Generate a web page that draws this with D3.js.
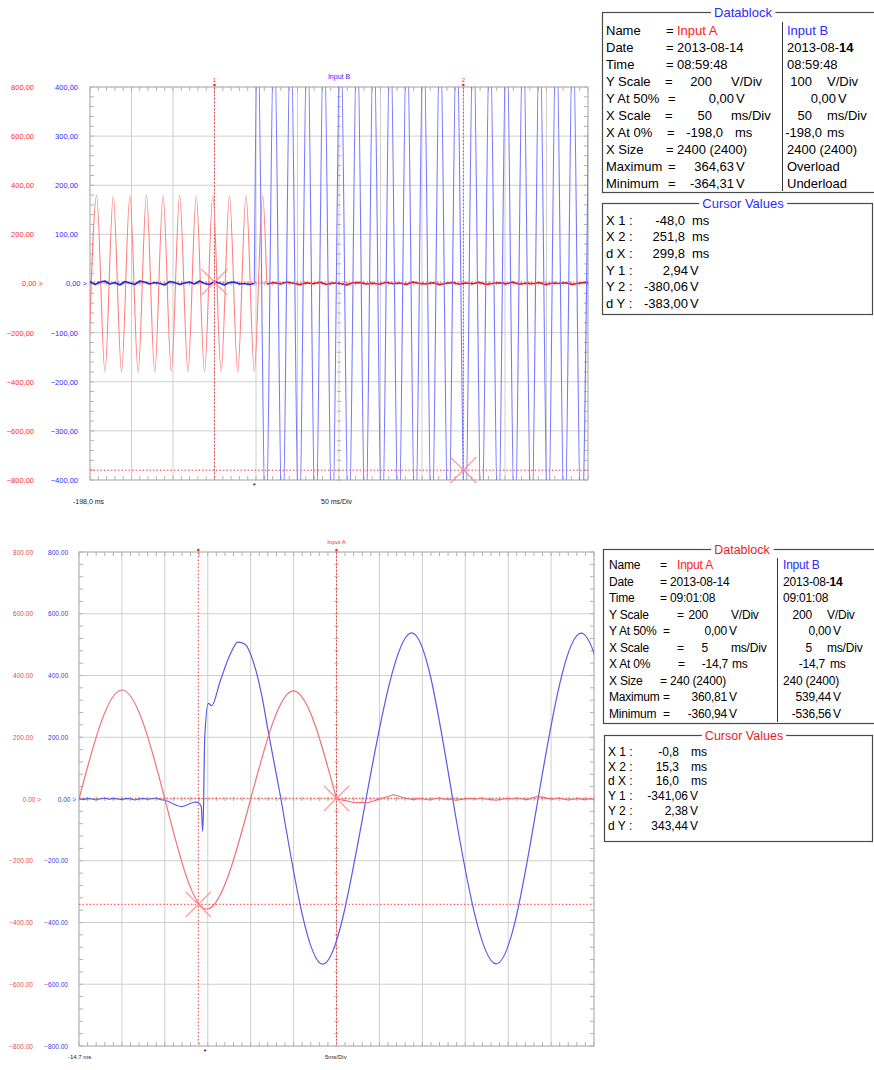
<!DOCTYPE html>
<html>
<head>
<meta charset="utf-8">
<script src="https://cdn.jsdelivr.net/npm/d3@7"></script>
<style>
  body { margin: 0; background: #fff; }
  svg { display: block; }
  text { font-family: "Liberation Sans", Arial, sans-serif; }
</style>
</head>
<body>
<svg id="chart" width="874" height="1070"></svg>
<script>
// ---------- top capture 08:59:48 (50 ms/div) ----------
// Input A: extrema of the 50 Hz sine before the switch (ms, V)
const topRedT = [-200, -190, -180, -170, -160, -150, -140, -130, -120, -110, -100, -90, -80, -70, -60, -50, -40, -30, -20, -10, 0, 10, 15];
const topRedV = [-359, 358, -360, 356, -359, 357, -361, 360, -359, 358, -358, 360, -359, 356, -360, 359, -359, 357, -361, 358, -357, 359, 0];
// Input A after the switch: flat trace, one value every 8 ms from 15 ms
const topRedNoiseStart = 15, topRedNoiseStep = 8;
const topRedNoise = [-3, 4, -2, 6, 1, -5, 3, -1, 5, -4, 2, 0, -6, 3, 4, -2, 1, -3, 5, -1, 2, -4, 6, 0, -2, 3, -5, 1, 4, -3, 2, -1, 5, -4, 0, 3, -2, 6, -3, 1, -1, 4, -5, 2, 0, 3, -4, 1, 5, -2];
// Input B before the switch: flat trace, one value every 6 ms from -198 ms
const topBlueNoiseStart = -198, topBlueNoiseStep = 6;
const topBlueNoise = [4, -2, 3, 5, -1, 2, -3, 4, 1, -2, 5, 3, -1, 2, 0, -3, 4, 2, -2, 1, 3, -1, 5, 0, -2, 4, 1, -3, 2, 3, -1, 0, -2, 0];
// Input B after the switch: extrema of the overloaded sine (ms, V)
const topBlueT = [0, 3.8, 13.8, 23.8, 33.8, 43.8, 53.8, 63.8, 73.8, 83.8, 93.8, 103.8, 113.8, 123.8, 133.8, 143.8, 153.8, 163.8, 173.8, 183.8, 193.8,
  203.8, 213.8, 223.8, 233.8, 243.8, 253.8, 263.8, 273.8, 283.8, 293.8, 303.8, 313.8, 323.8, 333.8, 343.8, 353.8, 363.8, 373.8, 383.8, 393.8, 403.8];
const topBlueV = [0, 540, -538, 539, -537, 541, -539, 538, -540, 539, -538, 540, -537, 539, -539, 538, -540, 541, -538, 539, -537,
  540, -539, 538, -538, 539, -540, 540, -537, 538, -539, 541, -538, 539, -540, 538, -537, 540, -539, 539, -538, 540];
const topCursorX = [-48.0, 251.8];
const topCursorY = [2.94, -380.06];
const topTicksA = [800, 600, 400, 200, 0, -200, -400, -600, -800];
const topTicksB = [400, 300, 200, 100, 0, -100, -200, -300, -400];

// ---------- bottom capture 09:01:08 (5 ms/div) ----------
const botRedT = [-14.7, -9.7, -4.7, 0.2, 5.3, 10.3, 15.3];
const botRedV = [0, 353, 0, -357, 0, 350, 0];
const botRedNoiseStart = 15.3, botRedNoiseStep = 0.6;
const botRedNoise = [0, -3, -6, -10, -12, -11, -12, -8, -2, 3, 8, 14, 10, 4, 1, -2, 2, 0, -3, 1, 3, -1, 0, -4, -2, 1, 2, -1, 3, 0,
  -2, -4, -1, 2, 0, 3, 1, -2, 4, 8, 6, 2, -1, 3, 0, -3, -1, 2, -2, 1, 0];
const botBlueNoiseStart = -14.7, botBlueNoiseStep = 0.5;
const botBlueNoise = [1, -2, 2, 0, -3, 1, 3, -1, 2, 0, -2, 2, 1, -3, 0, 2, -1, 1, 3, -2, -4, -9, -16, -22, -25, -20, -14, -10];
// switching transient and first half wave of Input B
const botBlueStepT = [-1.2, -0.8, -0.45, -0.3, -0.2, -0.05, 0.36, 0.76, 1.73, 2.89, 3.82, 4.64, 5.6, 6.58, 7.35, 8.83];
const botBlueStepV = [-10, -12, -25, -105, -40, 200, 310, 302, 380, 467, 508, 501, 445, 337, 218, 0];
// following cycles of Input B: zero crossings and extrema
const botBlueT = [8.83, 13.7, 18.74, 24.06, 28.84, 33.9, 38.78, 43.8, 48.8];
const botBlueV = [0, -535, 0, 538, 0, -534, 0, 537, 0];
const botCursorX = [-0.8, 15.3];
const botCursorY = [-341.06, 2.38];
const botTicks = [800, 600, 400, 200, 0, -200, -400, -600, -800];

// ---------- datablock texts ----------
const blockLabels = ["Name", "Date", "Time", "Y Scale", "Y At 50%", "X Scale", "X At 0%", "X Size", "Maximum", "Minimum"];
const blockUnits = ["", "", "", "V/Div", "V", "ms/Div", "ms", "", "V", "V"];
const topBlockA = ["Input A", "2013-08-14", "08:59:48", "200", "0,00", "50", "-198,0", "2400 (2400)", "364,63", "-364,31"];
const topBlockB = ["Input B", "2013-08-14", "08:59:48", "100", "0,00", "50", "-198,0", "2400 (2400)", "Overload", "Underload"];
const botBlockA = ["Input A", "2013-08-14", "09:01:08", "200", "0,00", "5", "-14,7", "240 (2400)", "360,81", "-360,94"];
const botBlockB = ["Input B", "2013-08-14", "09:01:08", "200", "0,00", "5", "-14,7", "240 (2400)", "539,44", "-536,56"];
const cursorLabels = ["X 1 :", "X 2 :", "d X :", "Y 1 :", "Y 2 :", "d Y :"];
const topCursorVals = ["-48,0", "251,8", "299,8", "2,94", "-380,06", "-383,00"];
const botCursorVals = ["-0,8", "15,3", "16,0", "-341,06", "2,38", "343,44"];

const RED = "#ff2a2a", BLUE = "#2a2aff";
const svg = d3.select("#chart");

// ---------- scope plot ----------
function scope(opt) {
  const g = svg.append("g");
  const x = opt.x, yA = opt.yA, yB = opt.yB;
  const [x0, x1] = x.range(), [yb, yt] = yA.range();
  const xm = (x0 + x1) / 2, ym = yA(0);

  g.append("clipPath").attr("id", opt.id).append("rect")
    .attr("x", x0).attr("y", yt).attr("width", x1 - x0).attr("height", yb - yt);

  // grid
  const gx = d3.range(opt.xDivs + 1).map(i => x.domain()[0] + i * opt.xStep);
  g.append("g").selectAll("line").data(gx).join("line")
    .attr("x1", d => x(d)).attr("x2", d => x(d)).attr("y1", yt).attr("y2", yb)
    .attr("stroke", "#cfcfcf").attr("stroke-width", 1);
  g.append("g").selectAll("line").data(opt.ticksA).join("line")
    .attr("x1", x0).attr("x2", x1).attr("y1", d => yA(d)).attr("y2", d => yA(d))
    .attr("stroke", "#cfcfcf").attr("stroke-width", 1);

  // minor ticks on borders and centre lines
  const mx = d3.range(opt.xDivs * 5 + 1).map(i => x.domain()[0] + i * opt.xStep / 5);
  const my = d3.range(opt.yDivs * 5 + 1).map(i => yA.domain()[0] + i * (yA.domain()[1] - yA.domain()[0]) / (opt.yDivs * 5));
  const tk = g.append("g").attr("stroke", "#b0b0b0").attr("stroke-width", 1);
  mx.forEach(v => {
    tk.append("line").attr("x1", x(v)).attr("x2", x(v)).attr("y1", yt).attr("y2", yt + 4);
    tk.append("line").attr("x1", x(v)).attr("x2", x(v)).attr("y1", yb).attr("y2", yb - 4);
    tk.append("line").attr("x1", x(v)).attr("x2", x(v)).attr("y1", ym - 2).attr("y2", ym + 2);
  });
  my.forEach(v => {
    tk.append("line").attr("y1", yA(v)).attr("y2", yA(v)).attr("x1", x0).attr("x2", x0 + 4);
    tk.append("line").attr("y1", yA(v)).attr("y2", yA(v)).attr("x1", x1).attr("x2", x1 - 4);
    tk.append("line").attr("y1", yA(v)).attr("y2", yA(v)).attr("x1", xm - 2).attr("x2", xm + 2);
  });
  g.append("rect").attr("x", x0).attr("y", yt).attr("width", x1 - x0).attr("height", yb - yt)
    .attr("fill", "none").attr("stroke", "#b8b8b8");

  // y axes (two channels)
  const fmt = d => d === 0 ? "0" + opt.dec + "00 >" : d3.format(".2f")(d).replace(".", opt.dec);
  [[yA, opt.ticksA, opt.axA, opt.colA], [yB, opt.ticksB, opt.axB, opt.colB]].forEach(([sc, tv, ax, col]) => {
    const a = g.append("g").attr("transform", `translate(${ax},0)`)
      .call(d3.axisLeft(sc).tickValues(tv).tickFormat(fmt).tickSize(0).tickPadding(0));
    a.select(".domain").remove();
    a.selectAll("text").attr("fill", col).attr("font-size", opt.fs)
      .attr("font-family", "'Liberation Sans', Arial, sans-serif")
      .attr("x", d => d === 0 ? opt.zeroShift : 0);
  });

  // cursors
  const cur = g.append("g").attr("stroke", "#ff3a3a").attr("stroke-width", 1).attr("stroke-dasharray", "1.5,2");
  opt.curX.forEach(v => cur.append("line").attr("x1", x(v)).attr("x2", x(v)).attr("y1", yt - 3).attr("y2", yb));
  opt.curY.forEach(v => cur.append("line").attr("x1", x0).attr("x2", x1).attr("y1", opt.yCur(v)).attr("y2", opt.yCur(v)));
  opt.curX.forEach(v => g.append("circle").attr("cx", x(v)).attr("cy", yt - 2).attr("r", 1.3).attr("fill", "#ff2020"));

  // traces
  const tr = g.append("g").attr("clip-path", `url(#${opt.id})`);
  const curves = { lin: d3.curveLinear, nat: d3.curveNatural, mono: d3.curveMonotoneX };
  opt.traces.forEach(t => {
    const sc = t.ch === "A" ? yA : yB;
    const line = d3.line().x(d => x(d[0])).y(d => sc(d[1])).curve(curves[t.curve]);
    tr.append("path").datum(t.data).attr("d", line)
      .attr("fill", "none").attr("stroke", t.color).attr("stroke-width", t.w)
      .attr("stroke-linejoin", "round");
  });

  // cursor crosses
  const cx = g.append("g").attr("stroke", "#ff8a8a").attr("stroke-width", 1.1);
  opt.curX.forEach((v, i) => {
    const px = x(v), py = opt.yCur(opt.curY[i]), s = opt.cross;
    cx.append("line").attr("x1", px - s).attr("y1", py - s).attr("x2", px + s).attr("y2", py + s);
    cx.append("line").attr("x1", px - s).attr("y1", py + s).attr("x2", px + s).attr("y2", py - s);
  });

  // labels
  g.append("text").attr("x", xm).attr("y", yt - 8).attr("text-anchor", "middle")
    .attr("font-size", opt.fs - 0.5).attr("fill", opt.titleCol).text(opt.title);
  opt.curLabels.forEach((s, i) => g.append("text").attr("x", x(opt.curX[i])).attr("y", yt - 5)
    .attr("text-anchor", "middle").attr("font-size", opt.fs - 1.5).attr("fill", "#ff2020").text(s));
  g.append("text").attr("x", x(0)).attr("y", yb + 8).attr("text-anchor", "middle")
    .attr("font-size", 8).attr("fill", "#000").text("*");
  g.append("text").attr("x", opt.lblX0).attr("y", yb + opt.lblDy).attr("font-size", opt.fs - 0.5)
    .attr("fill", "#222").text(opt.xLabel);
  g.append("text").attr("x", opt.lblX1).attr("y", yb + opt.lblDy).attr("font-size", opt.fs - 0.5)
    .attr("fill", "#222").text(opt.divLabel);
}

const pairs = (t, v) => d3.zip(t, v);
const series = (start, step, v) => v.map((d, i) => [start + i * step, d]);

const xTop = d3.scaleLinear().domain([-198, 402]).range([90, 588]);
const yTopA = d3.scaleLinear().domain([-800, 800]).range([480, 87]);
const yTopB = d3.scaleLinear().domain([-400, 400]).range([480, 87]);
scope({
  id: "clipTop", x: xTop, yA: yTopA, yB: yTopB, xDivs: 12, yDivs: 8, xStep: 50,
  ticksA: topTicksA, ticksB: topTicksB, axA: 34, axB: 78, colA: RED, colB: BLUE,
  fs: 7.5, dec: ",", zeroShift: 9, curX: topCursorX, curY: topCursorY, yCur: yTopB, cross: 13,
  title: "Input B", titleCol: BLUE, curLabels: ["1", "2"],
  xLabel: "-198,0 ms", divLabel: "50 ms/Div", lblX0: 73, lblX1: 321, lblDy: 24,
  traces: [
    { ch: "A", data: pairs(topRedT, topRedV), curve: "mono", color: "#ff7f7f", w: 1.1 },
    { ch: "A", data: series(topRedNoiseStart, topRedNoiseStep, topRedNoise), curve: "lin", color: "#e81818", w: 1.6 },
    { ch: "B", data: series(topBlueNoiseStart, topBlueNoiseStep, topBlueNoise), curve: "lin", color: "#2030d8", w: 1.7 },
    { ch: "B", data: pairs(topBlueT, topBlueV), curve: "mono", color: "#7878ff", w: 1.1 }
  ]
});

const xBot = d3.scaleLinear().domain([-14.7, 45.3]).range([79, 594]);
const yBot = d3.scaleLinear().domain([-800, 800]).range([1046, 552]);
scope({
  id: "clipBot", x: xBot, yA: yBot, yB: yBot, xDivs: 12, yDivs: 8, xStep: 5,
  ticksA: botTicks, ticksB: botTicks, axA: 33, axB: 68, colA: "#e84a4a", colB: "#3a3ae6",
  fs: 6.5, dec: ".", zeroShift: 8, curX: botCursorX, curY: botCursorY, yCur: yBot, cross: 12.5,
  title: "Input A", titleCol: "#ff2a2a", curLabels: ["", ""],
  xLabel: "-14.7 ms", divLabel: "5ms/Div", lblX0: 68, lblX1: 325, lblDy: 12.5,
  traces: [
    { ch: "B", data: series(botBlueNoiseStart, botBlueNoiseStep, botBlueNoise), curve: "lin", color: "#5a5ae8", w: 1.1 },
    { ch: "B", data: pairs(botBlueStepT, botBlueStepV), curve: "mono", color: "#5a5ae8", w: 1.2 },
    { ch: "B", data: pairs(botBlueT, botBlueV), curve: "nat", color: "#5a5ae8", w: 1.2 },
    { ch: "A", data: pairs(botRedT, botRedV), curve: "nat", color: "#f07272", w: 1.2 },
    { ch: "A", data: series(botRedNoiseStart, botRedNoiseStep, botRedNoise), curve: "lin", color: "#f06a6a", w: 1.1 }
  ]
});

// ---------- datablock panels ----------
function framed(x, y, w, h, title, col, fs, tx) {
  svg.append("rect").attr("x", x).attr("y", y).attr("width", w).attr("height", h)
    .attr("fill", "none").attr("stroke", "#4a4a4a").attr("stroke-width", 1.2);
  const t = svg.append("text").attr("x", tx).attr("y", y + fs * 0.36).attr("text-anchor", "middle")
    .attr("font-size", fs).attr("fill", col).text(title);
  const b = t.node().getBBox();
  svg.append("rect").attr("x", b.x - 3).attr("y", y - 2).attr("width", b.width + 6).attr("height", 4)
    .attr("fill", "#fff");
  t.raise();
}

function txt(x, y, s, fs, opts = {}) {
  const t = svg.append("text").attr("x", x).attr("y", y).attr("font-size", fs)
    .attr("fill", opts.col || "#000").attr("text-anchor", opts.anchor || "start");
  if (opts.ls) t.attr("letter-spacing", opts.ls);
  if (opts.bold14 && s.endsWith("-14")) {
    t.append("tspan").text(s.slice(0, -2));
    t.append("tspan").attr("font-weight", "bold").text("14");
  } else t.text(s);
  return t;
}

function datablock(L, A, B, y0, dy, fs) {
  const o = { ls: L.ls };
  blockLabels.forEach((lab, i) => {
    const y = y0 + i * dy;
    txt(L.label, y, lab, fs, o);
    const kind = [0, 1, 2, 7].includes(i) ? "text" : (i === 3 || i === 5) ? "scale" : i === 6 ? "xat" : "volt";
    txt(L.eq[kind], y, "=", fs);
    if (kind === "text") {
      txt(i === 0 ? L.name : L.val, y, A[i], fs, { ls: L.ls, col: i === 0 ? "#ff1a1a" : "#000" });
      txt(L.bVal, y, B[i], fs, { ls: L.ls, col: i === 0 ? BLUE : "#000", bold14: i === 1 });
    } else {
      txt(L.num[kind], y, A[i], fs, { ls: L.ls, anchor: "end" });
      txt(L.unit[kind], y, blockUnits[i], fs, o);
      if (isNaN(parseFloat(B[i]))) {
        txt(L.bVal, y, B[i], fs, o);
      } else {
        txt(L.bNum[kind], y, B[i], fs, { ls: L.ls, anchor: "end" });
        txt(L.bUnit[kind], y, blockUnits[i], fs, o);
      }
    }
  });
}

// top panel
framed(602.5, 12.5, 290, 180, "Datablock", BLUE, 13, 743);
svg.append("line").attr("x1", 782.5).attr("x2", 782.5).attr("y1", 22).attr("y2", 191).attr("stroke", "#333");
datablock({
  label: 606, name: 677, val: 677, bVal: 787, ls: 0,
  eq: { text: 666, scale: 665, xat: 667, volt: 668 },
  num: { scale: 712, xat: 723, volt: 734 },
  unit: { scale: 731, xat: 735, volt: 736 },
  bNum: { scale: 812, xat: 822, volt: 836 },
  bUnit: { scale: 827, xat: 827, volt: 838 }
}, topBlockA, topBlockB, 34.5, 17.05, 13);

framed(602.5, 203.5, 270, 111, "Cursor Values", BLUE, 13, 743);
cursorLabels.forEach((s, i) => {
  const y = 224.5 + i * 16.7;
  txt(606, y, s, 13);
  txt(i < 3 ? 685 : 688, y, topCursorVals[i], 13, { anchor: "end" });
  txt(i < 3 ? 692 : 690, y, i < 3 ? "ms" : "V", 13);
});

// bottom panel
framed(603.5, 549.5, 290, 174, "Datablock", "#e81c1c", 12.5, 742);
svg.append("line").attr("x1", 777.5).attr("x2", 777.5).attr("y1", 558).attr("y2", 722).attr("stroke", "#333");
datablock({
  label: 609, name: 677, val: 670, bVal: 783, ls: -0.2,
  eq: { text: 660, scale: 677, xat: 678, volt: 663 },
  num: { scale: 708, xat: 728, volt: 727 },
  unit: { scale: 731, xat: 732, volt: 729 },
  bNum: { scale: 812, xat: 825, volt: 831 },
  bUnit: { scale: 827, xat: 830, volt: 833 }
}, botBlockA, botBlockB, 569, 16.5, 12);

framed(604.5, 735.5, 268, 106, "Cursor Values", "#e81c1c", 12.5, 744);
cursorLabels.forEach((s, i) => {
  const y = 756 + i * 14.7;
  txt(608, y, s, 12);
  txt(i < 3 ? 679 : 688, y, botCursorVals[i], 12, { anchor: "end" });
  txt(i < 3 ? 691 : 690, y, i < 3 ? "ms" : "V", 12);
});
</script>
</body>
</html>
